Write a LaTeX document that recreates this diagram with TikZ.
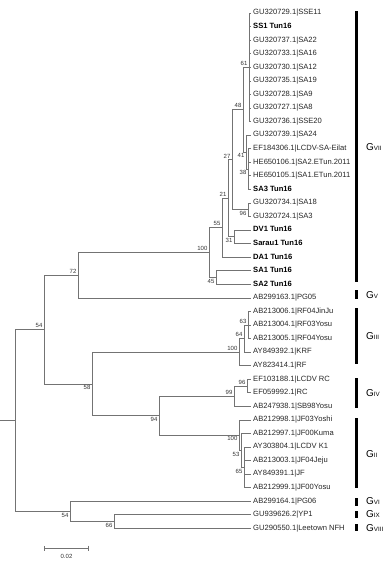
\documentclass[tikz,border=0pt]{standalone}
\usepackage{fontspec}
\setmainfont{Liberation Sans}
\usepackage{tikz}
\usetikzlibrary{arrows.meta}
\definecolor{treegray}{gray}{0.45}
\newcommand{\gnum}[1]{{\fontsize{6.2}{6.2}\selectfont #1}}

\begin{document}
\begin{tikzpicture}[x=1pt,y=-1pt,
  branch/.style={draw=treegray, line width=0.6pt},
  leaf/.style={anchor=west, inner xsep=2pt, inner ysep=0pt, text height=5.4pt, text depth=1.6pt,
    font=\fontsize{7.6}{8}\selectfont, text=black!85},
  strain/.style={leaf, font=\fontsize{7.6}{8}\selectfont\bfseries, text=black},
  bsu/.style={anchor=south east, inner sep=1.4pt, font=\fontsize{6}{6}\selectfont, text=black!80},
  bsd/.style={anchor=north east, inner sep=1.4pt, font=\fontsize{6}{6}\selectfont, text=black!80},
  grp/.style={line width=3pt, black},
  glabel/.style={anchor=west, inner sep=0pt, font=\fontsize{10}{10}\selectfont}]
\useasboundingbox (0,0) rectangle (390,563);

% leaves
\node[leaf] (sse11) at (251,13.0) {GU320729.1|SSE11};
\node[strain] (ss1) at (251,26.6) {SS1 Tun16};
\node[leaf] (sa22) at (251,40.1) {GU320737.1|SA22};
\node[leaf] (sa16) at (251,53.7) {GU320733.1|SA16};
\node[leaf] (sa12) at (251,67.2) {GU320730.1|SA12};
\node[leaf] (sa19) at (251,80.8) {GU320735.1|SA19};
\node[leaf] (sa9) at (251,94.4) {GU320728.1|SA9};
\node[leaf] (sa8) at (251,107.9) {GU320727.1|SA8};
\node[leaf] (sse20) at (251,121.5) {GU320736.1|SSE20};
\node[leaf] (sa24) at (251,135.0) {GU320739.1|SA24};
\node[leaf] (eilat) at (251,148.6) {EF184306.1|LCDV-SA-Eilat};
\node[leaf] (etun2) at (251,162.2) {HE650106.1|SA2.ETun.2011};
\node[leaf] (etun1) at (251,175.7) {HE650105.1|SA1.ETun.2011};
\node[strain] (sa3t) at (251,189.3) {SA3 Tun16};
\node[leaf] (sa18) at (251,202.8) {GU320734.1|SA18};
\node[leaf] (sa3) at (251,216.4) {GU320724.1|SA3};
\node[strain] (dv1) at (251,230.0) {DV1 Tun16};
\node[strain] (sarau1) at (251,243.5) {Sarau1 Tun16};
\node[strain] (da1) at (251,257.1) {DA1 Tun16};
\node[strain] (sa1t) at (251,270.6) {SA1 Tun16};
\node[strain] (sa2t) at (251,284.2) {SA2 Tun16};
\node[leaf] (pg05) at (251,297.8) {AB299163.1|PG05};
\node[leaf] (jinju) at (251,311.3) {AB213006.1|RF04JinJu};
\node[leaf] (rf03) at (251,324.9) {AB213004.1|RF03Yosu};
\node[leaf] (rf04) at (251,338.4) {AB213005.1|RF04Yosu};
\node[leaf] (krf) at (251,352.0) {AY849392.1|KRF};
\node[leaf] (rf) at (251,365.6) {AY823414.1|RF};
\node[leaf] (lcdvrc) at (251,379.1) {EF103188.1|LCDV RC};
\node[leaf] (rc) at (251,392.7) {EF059992.1|RC};
\node[leaf] (sb98) at (251,406.2) {AB247938.1|SB98Yosu};
\node[leaf] (yoshi) at (251,419.8) {AB212998.1|JF03Yoshi};
\node[leaf] (kuma) at (251,433.4) {AB212997.1|JF00Kuma};
\node[leaf] (k1) at (251,446.9) {AY303804.1|LCDV K1};
\node[leaf] (jeju) at (251,460.5) {AB213003.1|JF04Jeju};
\node[leaf] (jf) at (251,474.0) {AY849391.1|JF};
\node[leaf] (jf00) at (251,487.6) {AB212999.1|JF00Yosu};
\node[leaf] (pg06) at (251,501.2) {AB299164.1|PG06};
\node[leaf] (yp1) at (251,514.7) {GU939626.2|YP1};
\node[leaf] (leetown) at (251,528.3) {GU290550.1|Leetown NFH};

% inner nodes
\coordinate (base) at (0,420.4);
\coordinate (root) at (15,420.4);
\coordinate (n54a) at (44,329.5);
\coordinate (n72) at (78,275.2);
\coordinate (n100a) at (209,252.5);
\coordinate (n55) at (222,227.6);
\coordinate (n21) at (228,198.2);
\coordinate (n27) at (232,159.6);
\coordinate (n48) at (243,109.6);
\coordinate (n61) at (249,67.25);
\coordinate (n41) at (246,152.0);
\coordinate (n38) at (248,169.0);
\coordinate (n96a) at (248,209.6);
\coordinate (n31) at (234,236.75);
\coordinate (n45) at (216,277.4);
\coordinate (n58) at (92,383.8);
\coordinate (n100b) at (239,352.0);
\coordinate (n64) at (244,338.4);
\coordinate (n63) at (248,324.85);
\coordinate (n94) at (159,415.55);
\coordinate (n99) at (234,396.05);
\coordinate (n96b) at (247,385.9);
\coordinate (nGII) at (239,435.05);
\coordinate (n53) at (241,450.3);
\coordinate (n65) at (244,467.25);
\coordinate (n54b) at (70,511.35);
\coordinate (n66) at (114,521.5);

% branches
\draw[branch] (base) -- (root);
\draw[branch] (root) |- (n54a) (root) |- (n54b);
\draw[branch] (n54a) |- (n72) (n54a) |- (n58);
\draw[branch] (n72) |- (n100a) (n72) |- (pg05.west);
\draw[branch] (n100a) |- (n55) (n100a) |- (n45);
\draw[branch] (n55) |- (n21) (n55) |- (da1.west);
\draw[branch] (n21) |- (n27) (n21) |- (n31);
\draw[branch] (n27) |- (n48) (n27) |- (n96a);
\draw[branch] (n48) |- (n61) (n48) |- (n41);
\draw[branch] (n61) |- (sse11.west) (n61) |- (ss1.west) (n61) |- (sa22.west)
  (n61) |- (sa16.west) (n61) |- (sa12.west) (n61) |- (sa19.west)
  (n61) |- (sa9.west) (n61) |- (sa8.west) (n61) |- (sse20.west);
\draw[branch] (n41) |- (sa24.west) (n41) |- (n38);
\draw[branch] (n38) |- (eilat.west) (n38) |- (etun2.west) (n38) |- (etun1.west) (n38) |- (sa3t.west);
\draw[branch] (n96a) |- (sa18.west) (n96a) |- (sa3.west);
\draw[branch] (n31) |- (dv1.west) (n31) |- (sarau1.west);
\draw[branch] (n45) |- (sa1t.west) (n45) |- (sa2t.west);
\draw[branch] (n58) |- (n100b) (n58) |- (n94);
\draw[branch] (n100b) |- (n64) (n100b) |- (rf.west);
\draw[branch] (n64) |- (n63) (n64) |- (krf.west);
\draw[branch] (n63) |- (jinju.west) (n63) |- (rf03.west) (n63) |- (rf04.west);
\draw[branch] (n94) |- (n99) (n94) |- (nGII);
\draw[branch] (n99) |- (n96b) (n99) |- (sb98.west);
\draw[branch] (n96b) |- (lcdvrc.west) (n96b) |- (rc.west);
\draw[branch] (nGII) |- (yoshi.west) (nGII) |- (n53);
\draw[branch] (n53) |- (kuma.west) (n53) |- (n65);
\draw[branch] (n65) |- (k1.west) (n65) |- (jeju.west) (n65) |- (jf.west) (n65) |- (jf00.west);
\draw[branch] (n54b) |- (pg06.west) (n54b) |- (n66);
\draw[branch] (n66) |- (yp1.west) (n66) |- (leetown.west);

% bootstrap values
\node[bsu] (b54a) at (n54a) {54};
\node[bsu] (b72) at (n72) {72};
\node[bsu] (b100a) at (n100a) {100};
\node[bsu] (b55) at (n55) {55};
\node[bsu] (b21) at (n21) {21};
\node[bsu] (b27) at (n27) {27};
\node[bsu] (b48) at (n48) {48};
\node[bsu] (b61) at (n61) {61};
\node[bsd] (b41) at (n41) {41};
\node[bsd] (b38) at (n38) {38};
\node[bsd] (b96a) at (n96a) {96};
\node[bsd] (b31) at (n31) {31};
\node[bsd] (b45) at (n45) {45};
\node[bsd] (b58) at (n58) {58};
\node[bsu] (b100b) at (n100b) {100};
\node[bsu] (b64) at (n64) {64};
\node[bsu] (b63) at (n63) {63};
\node[bsd] (b94) at (n94) {94};
\node[bsu] (b99) at (n99) {99};
\node[bsu] (b96b) at (n96b) {96};
\node[bsd] (b100c) at (nGII) {100};
\node[bsd] (b53) at (n53) {53};
\node[bsd] (b65) at (n65) {65};
\node[bsd] (b54b) at (n54b) {54};
\node[bsd] (b66) at (n66) {66};

% genogroups
\draw[grp] (356,11) -- (356,282);
\draw[grp] (356,290) -- (356,299);
\draw[grp] (356,308) -- (356,364);
\draw[grp] (356,378) -- (356,408);
\draw[grp] (356,418) -- (356,488);
\draw[grp] (356,498) -- (356,506);
\draw[grp] (356,511) -- (356,518);
\draw[grp] (356,524) -- (356,531);
\node[glabel] (gvii) at (366,147) {G\gnum{VII}};
\node[glabel] (gv) at (366,295) {G\gnum{V}};
\node[glabel] (giii) at (366,336) {G\gnum{III}};
\node[glabel] (giv) at (366,393) {G\gnum{IV}};
\node[glabel] (gii) at (366,454) {G\gnum{II}};
\node[glabel] (gvi) at (366,501) {G\gnum{VI}};
\node[glabel] (gix) at (366,514) {G\gnum{IX}};
\node[glabel] (gviii) at (366,528) {G\gnum{VIII}};

% scale bar
\coordinate (sb0) at (44,548);
\coordinate (sb1) at (89,548);
\draw[branch, {Bar[width=5pt]}-{Bar[width=5pt]}] (sb0) -- (sb1);
\node[inner sep=0pt, font=\fontsize{6}{6}\selectfont, text=black!80] (sblabel) at (66.5,556.5) {0.02};
\end{tikzpicture}
\end{document}
